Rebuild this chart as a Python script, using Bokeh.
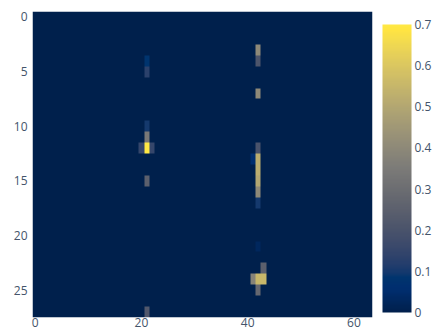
import numpy as np
from bokeh.plotting import figure
from bokeh.models import LinearColorMapper, ColorBar, FixedTicker, Range1d
from bokeh.palettes import Cividis256
from bokeh.embed import file_html
from bokeh.resources import INLINE

n_rows, n_cols = 28, 64
cell_rows = [4, 5, 10, 11, 12, 12, 12, 15, 27,
             3, 4, 7, 12, 13, 13, 14, 15, 16, 17, 21, 23, 24, 24, 24, 25]
cell_cols = [21, 21, 21, 21, 20, 21, 22, 21, 21,
             42, 42, 42, 42, 41, 42, 42, 42, 42, 42, 42, 43, 41, 42, 43, 42]
cell_vals = [0.08, 0.13, 0.10, 0.34, 0.15, 0.70, 0.15, 0.25, 0.22,
             0.40, 0.21, 0.40, 0.20, 0.06, 0.52, 0.52, 0.50, 0.40, 0.10, 0.03, 0.25, 0.38, 0.55, 0.55, 0.28]
x_ticks = [0, 20, 40, 60]
y_ticks = [0, 5, 10, 15, 20, 25]
cbar_ticks = [0, 0.1, 0.2, 0.3, 0.4, 0.5, 0.6, 0.7]

z = np.zeros((n_rows, n_cols))
for r, c, v in zip(cell_rows, cell_cols, cell_vals):
    z[r, c] = v

FONT = "Open Sans"
TXT = "#44546a"

mapper = LinearColorMapper(palette=Cividis256, low=0, high=0.7)

p = figure(width=434, height=329, output_backend="svg", toolbar_location=None,
           x_range=Range1d(-0.5, n_cols - 0.5), y_range=Range1d(n_rows - 0.5, -0.5),
           min_border_left=32, min_border_top=11, min_border_bottom=0, min_border_right=62)
p.outline_line_color = None
p.grid.visible = False

p.image(image=[z], x=-0.5, y=-0.5, dw=n_cols, dh=n_rows, color_mapper=mapper)

for ax, ticks in ((p.xaxis[0], x_ticks), (p.yaxis[0], y_ticks)):
    ax.ticker = FixedTicker(ticks=ticks)
    ax.axis_line_color = None
    ax.major_tick_line_color = None
    ax.minor_tick_line_color = None
    ax.major_tick_out = 0
    ax.major_label_standoff = 0
    ax.major_label_text_font = FONT
    ax.major_label_text_font_size = "12px"
    ax.major_label_text_color = TXT
p.yaxis.major_label_standoff = 5

cb = ColorBar(color_mapper=mapper, ticker=FixedTicker(ticks=cbar_ticks),
              width=29, height=288, padding=0, margin=0, label_standoff=3,
              location=(350, 5),
              major_tick_line_color=None, minor_tick_line_color=None,
              bar_line_color=None, border_line_color=None, background_fill_color=None,
              major_label_text_font=FONT, major_label_text_font_size="12px",
              major_label_text_color=TXT,
              major_label_overrides={0: "0"})
p.add_layout(cb, "center")

open("out.html", "w").write(file_html(p, INLINE))
